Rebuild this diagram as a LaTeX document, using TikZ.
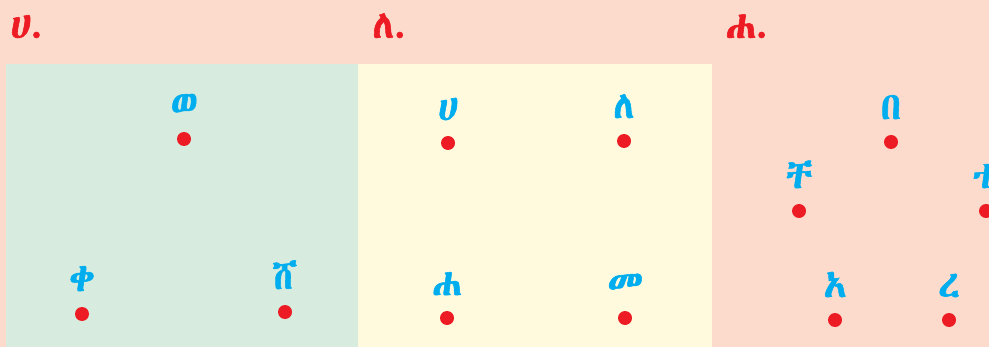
\documentclass[tikz,border=0pt]{standalone}
\usepackage{fontspec}
\newfontfamily\ethfont{Abyssinica SIL}[FakeBold=1.5]
\usetikzlibrary{positioning}
\definecolor{bgPeach}{HTML}{FCDBCC}
\definecolor{panGreen}{HTML}{D7ECDE}
\definecolor{panYellow}{HTML}{FFFADE}
\definecolor{dotRed}{HTML}{ED1C24}
\definecolor{lblBlue}{HTML}{00AEEF}
\tikzset{
  dotpt/.style={circle, fill=dotRed, inner sep=0pt, minimum size=7pt},
  lbl/.style={font=\ethfont\fontsize{19}{21}\selectfont, text=lblBlue, inner sep=0pt},
  head/.style={font=\ethfont\fontsize{19.5}{21}\selectfont, text=dotRed,
               inner sep=0pt, anchor=base west},
}
\begin{document}
\begin{tikzpicture}[x=0.5pt, y=-0.5pt, node distance=7.5pt]
  \useasboundingbox (0,0) rectangle (989,347);
  \clip (0,0) rectangle (989,347);
  % panels
  \fill[bgPeach] (0,0) rectangle (989,347);
  \fill[panGreen] (6,64) rectangle (358,347);
  \fill[panYellow] (358,64) rectangle (712,347);
  % headings
  \node[head] (hA) at (10,38) {ሀ.};
  \node[head] (hB) at (372,38) {ለ.};
  \node[head] (hC) at (725,38) {ሐ.};
  % first panel
  \node[dotpt] (we) at (184,139) {};
  \node[lbl, above=of we] (weL) {ወ};
  \node[dotpt] (qe) at (82,314) {};
  \node[lbl, above=of qe] (qeL) {ቀ};
  \node[dotpt] (she) at (285,312) {};
  \node[lbl, above=of she] (sheL) {ሸ};
  % second panel
  \node[dotpt] (ha) at (448,143) {};
  \node[lbl, above=of ha] (haL) {ሀ};
  \node[dotpt] (le) at (624,141) {};
  \node[lbl, above=of le] (leL) {ለ};
  \node[dotpt] (hha) at (447,318) {};
  \node[lbl, above=of hha] (hhaL) {ሐ};
  \node[dotpt] (me) at (625,318) {};
  \node[lbl, above=of me] (meL) {መ};
  % third panel
  \node[dotpt] (be) at (891,142) {};
  \node[lbl, above=of be] (beL) {በ};
  \node[dotpt] (che) at (799,211) {};
  \node[lbl, above=of che] (cheL) {ቸ};
  \node[dotpt] (te) at (986,211) {};
  \node[lbl, above=of te] (teL) {ተ};
  \node[dotpt] (ae) at (835,320) {};
  \node[lbl, above=of ae] (aeL) {አ};
  \node[dotpt] (re) at (949,320) {};
  \node[lbl, above=of re] (reL) {ረ};
\end{tikzpicture}
\end{document}
